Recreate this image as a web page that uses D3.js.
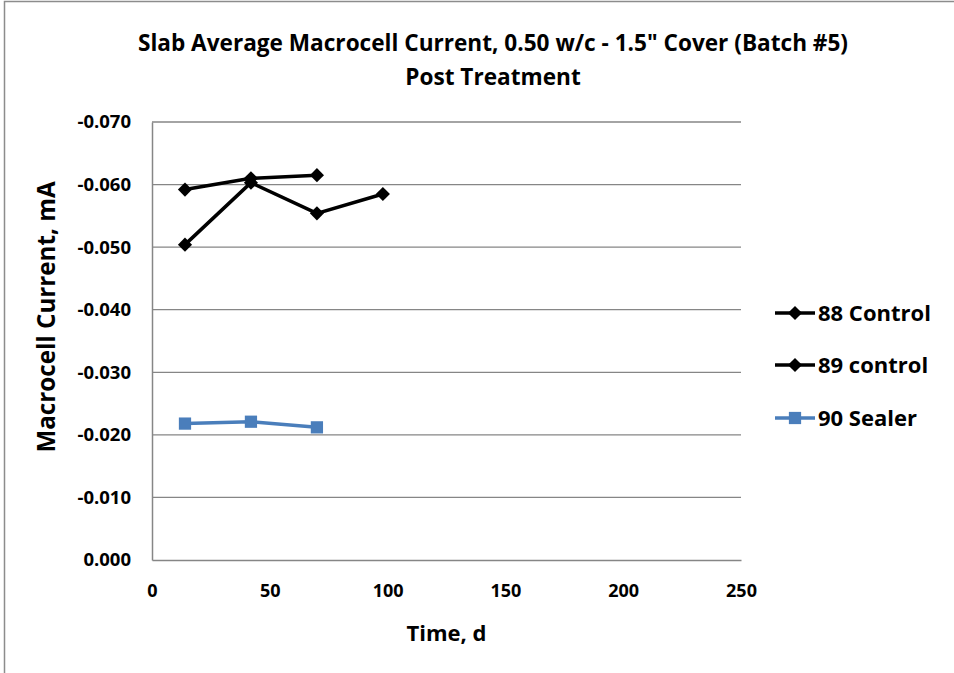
<!DOCTYPE html>
<html>
<head>
<meta charset="utf-8">
<script src="https://d3js.org/d3.v7.min.js"></script>
<style>
  body { margin: 0; background: #fff; }
  text { font-family: "Open Sans", sans-serif; font-weight: bold; fill: #000; }
</style>
</head>
<body>
<div id="chart"></div>
<script>
// Data
const seriesNames = ["88 Control", "89 control", "90 Sealer"];
const days88 = [14, 42, 70, 98];
const vals88 = [-0.0504, -0.0603, -0.0554, -0.0585];
const days89 = [14, 42, 70];
const vals89 = [-0.0592, -0.0610, -0.0615];
const days90 = [14, 42, 70];
const vals90 = [-0.0218, -0.0221, -0.0212];
const xTicks = [0, 50, 100, 150, 200, 250];
const yTicks = [0, -0.01, -0.02, -0.03, -0.04, -0.05, -0.06, -0.07];

const W = 954, H = 673;
const margin = { top: 122, left: 152, right: 213, bottom: 113 };
const width = W - margin.left - margin.right;
const height = H - margin.top - margin.bottom;

const svg = d3.select("#chart").append("svg")
  .attr("width", W).attr("height", H);

// chart frame
svg.append("path")
  .attr("d", `M4.5,${H} V1.5 H${W}`)
  .attr("fill", "none").attr("stroke", "#8c8c8c").attr("stroke-width", 1.5);

const g = svg.append("g").attr("transform", `translate(${margin.left},${margin.top})`);

const x = d3.scaleLinear().domain([0, 250]).range([0, width]);
const y = d3.scaleLinear().domain([0, -0.07]).range([height, 0]);

// gridlines
g.selectAll("line.grid").data(yTicks.slice(1)).enter().append("line")
  .attr("x1", 0).attr("x2", width)
  .attr("y1", d => y(d)).attr("y2", d => y(d))
  .attr("stroke", "#868686").attr("stroke-width", 1.3);

// axes
const fmt = d => d3.format(".3f")(d).replace("\u2212", "-");
const yAxis = g.append("g").call(d3.axisLeft(y).tickValues(yTicks).tickSize(0).tickPadding(21).tickFormat(fmt));
yAxis.select(".domain").attr("stroke", "#868686").attr("stroke-width", 1.5);
yAxis.selectAll("text").style("font-size", "18.5px");

const xAxis = g.append("g").attr("transform", `translate(0,${height})`)
  .call(d3.axisBottom(x).tickValues(xTicks).tickSize(0).tickPadding(24));
xAxis.select(".domain").attr("stroke", "#868686").attr("stroke-width", 1.5);
xAxis.selectAll("text").style("font-size", "18px");

// titles
svg.append("text").attr("x", 493).attr("y", 51).attr("text-anchor", "middle")
  .style("font-size", "22.6px").text("Slab Average Macrocell Current, 0.50 w/c - 1.5\" Cover (Batch #5)");
svg.append("text").attr("x", 493).attr("y", 85).attr("text-anchor", "middle")
  .style("font-size", "22.6px").text("Post Treatment");
svg.append("text").attr("x", margin.left + x(125)).attr("y", 641).attr("text-anchor", "middle")
  .style("font-size", "22px").text("Time, d");
svg.append("text").attr("transform", "translate(55,317) rotate(-90)")
  .attr("text-anchor", "middle").style("font-size", "24.2px").text("Macrocell Current, mA");

// series
const diamond = d3.symbol().type(d3.symbolSquare).size(100);
const square = d3.symbol().type(d3.symbolSquare).size(150);
const series = [
  { name: seriesNames[0], color: "#000", sym: diamond, rot: 45, pts: days88.map((d, i) => [d, vals88[i]]) },
  { name: seriesNames[1], color: "#000", sym: diamond, rot: 45, pts: days89.map((d, i) => [d, vals89[i]]) },
  { name: seriesNames[2], color: "#4a7ebb", sym: square, rot: 0, pts: days90.map((d, i) => [d, vals90[i]]) }
];

const line = d3.line().x(d => x(d[0])).y(d => y(d[1]));

series.forEach(s => {
  g.append("path").datum(s.pts).attr("d", line)
    .attr("fill", "none").attr("stroke", s.color).attr("stroke-width", 3.5);
  g.selectAll(null).data(s.pts).enter().append("path")
    .attr("transform", d => `translate(${x(d[0])},${y(d[1])}) rotate(${s.rot})`)
    .attr("d", s.sym)
    .attr("fill", s.color);
});

// legend
const legend = svg.append("g").attr("transform", "translate(775,0)");
const legendY = [313, 365, 418];
series.forEach((s, i) => {
  const lg = legend.append("g").attr("transform", `translate(0,${legendY[i]})`);
  lg.append("line").attr("x1", 0).attr("x2", 40).attr("stroke", s.color).attr("stroke-width", 3.5);
  lg.append("path").attr("transform", `translate(20,0) rotate(${s.rot})`)
    .attr("d", s.sym).attr("fill", s.color);
  lg.append("text").attr("x", 43).attr("y", 8).style("font-size", "22px").text(s.name);
});
</script>
</body>
</html>
